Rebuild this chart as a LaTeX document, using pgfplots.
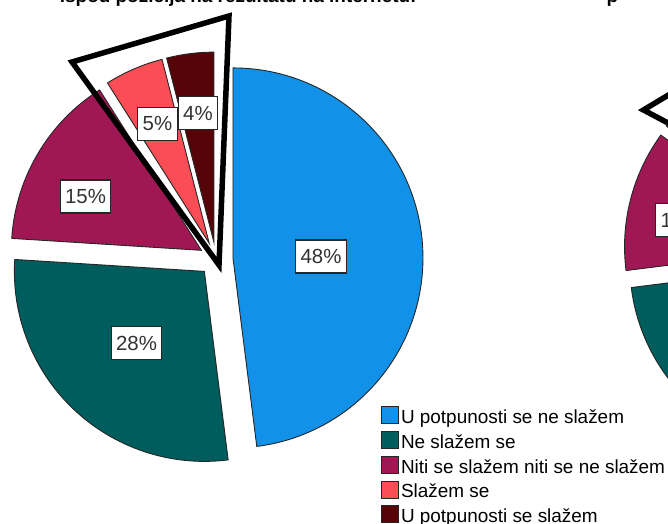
\documentclass[border=0pt]{standalone}
\usepackage{fontspec}
\setmainfont{Liberation Sans}
\usepackage{pgfplots}
\pgfplotsset{compat=1.18}

\definecolor{cBlue}{HTML}{1192E8}
\definecolor{cTeal}{HTML}{005D5D}
\definecolor{cMag}{HTML}{9F1853}
\definecolor{cRed}{HTML}{FA4D56}
\definecolor{cDark}{HTML}{570408}

\tikzset{lbl/.style={draw=black!85, line width=1.1bp, fill=white, text=black!80,
    font=\fontsize{20.5}{22}\selectfont, inner xsep=5bp, inner ysep=0pt,
    minimum height=33bp}}

% exploded pie slice: #1 colour, #2 share before it (%), #3 share (%), #4,#5 pie centre
\newcommand\pieslice[5]{%
  \pgfmathsetmacro\sa{90-3.6*#2}%
  \pgfmathsetmacro\ea{90-3.6*(#2+#3)}%
  \pgfmathsetmacro\ma{(\sa+\ea)/2}%
  \pgfmathsetmacro\px{#4+17*cos(\ma)}%
  \pgfmathsetmacro\py{#5+17*sin(\ma)}%
  \edef\tmp{\noexpand\filldraw[fill=#1,draw=black!85,line width=0.9bp]
    (axis cs:\px,\py) -- ++(\sa:190bp) arc[start angle=\sa,end angle=\ea,radius=190bp] -- cycle;}%
  \tmp}

\begin{document}
\begin{tikzpicture}
\begin{axis}[
  x=1bp, y=1bp,
  xmin=0, xmax=668, ymin=0, ymax=524,
  hide axis,
  legend cell align=left,
  legend image code/.code={\draw[#1,draw=black!85,line width=0.8bp] (0bp,-4.8bp) rectangle (17bp,12.2bp);},
  legend style={at={(axis cs:381,118)}, anchor=north west, draw=none, fill=none,
    inner sep=0pt, column sep=2bp, row sep=3bp,
    font=\fontsize{19}{19}\selectfont,
    nodes={inner sep=0pt, text height=14bp, text depth=4.4bp}},
]
% left pie: 48, 28, 15, 5, 4
\pieslice{cBlue}{0}{48}{216}{265}
\pieslice{cTeal}{48}{28}{216}{265}
\pieslice{cMag}{76}{15}{216}{265}
\pieslice{cRed}{91}{5}{216}{265}
\pieslice{cDark}{96}{4}{216}{265}
% right pie (only its left edge is in view)
\pieslice{cBlue}{0}{50}{831}{273}
\pieslice{cTeal}{50}{23}{831}{273}
\pieslice{cMag}{73}{12}{831}{273}
\pieslice{cRed}{85}{8}{831}{273}
\pieslice{cDark}{93}{7}{831}{273}

\draw[line width=5.5bp, line join=miter] (axis cs:72,462) -- (axis cs:229,508) -- (axis cs:219,259) -- cycle;
\draw[line width=5.5bp, line join=miter] (axis cs:700,448) -- (axis cs:643.5,414) -- (axis cs:700,384);

\node[lbl] at (axis cs:321,267.5) {48\%};
\node[lbl] at (axis cs:136.5,181) {28\%};
\node[lbl] at (axis cs:85.5,327.5) {15\%};
\node[lbl] at (axis cs:157.5,400) {5\%};
\node[lbl] at (axis cs:198,411) {4\%};
\node[lbl] at (axis cs:681,304) {12\%};

\node[anchor=base east, font=\fontsize{19}{19}\selectfont\bfseries] at (axis cs:420,521.5)
  {ispod pozicija na rezultatu na internetu:};
\node[anchor=base west, font=\fontsize{19}{19}\selectfont\bfseries] at (axis cs:603,521.5) {p};

\addlegendimage{fill=cBlue}
\addlegendentry{U potpunosti se ne slažem}
\addlegendimage{fill=cTeal}
\addlegendentry{Ne slažem se}
\addlegendimage{fill=cMag}
\addlegendentry{Niti se slažem niti se ne slažem}
\addlegendimage{fill=cRed}
\addlegendentry{Slažem se}
\addlegendimage{fill=cDark}
\addlegendentry{U potpunosti se slažem}
\end{axis}
\pgfresetboundingbox
\path (current axis.south west) rectangle (current axis.north east);
\end{tikzpicture}
\end{document}
